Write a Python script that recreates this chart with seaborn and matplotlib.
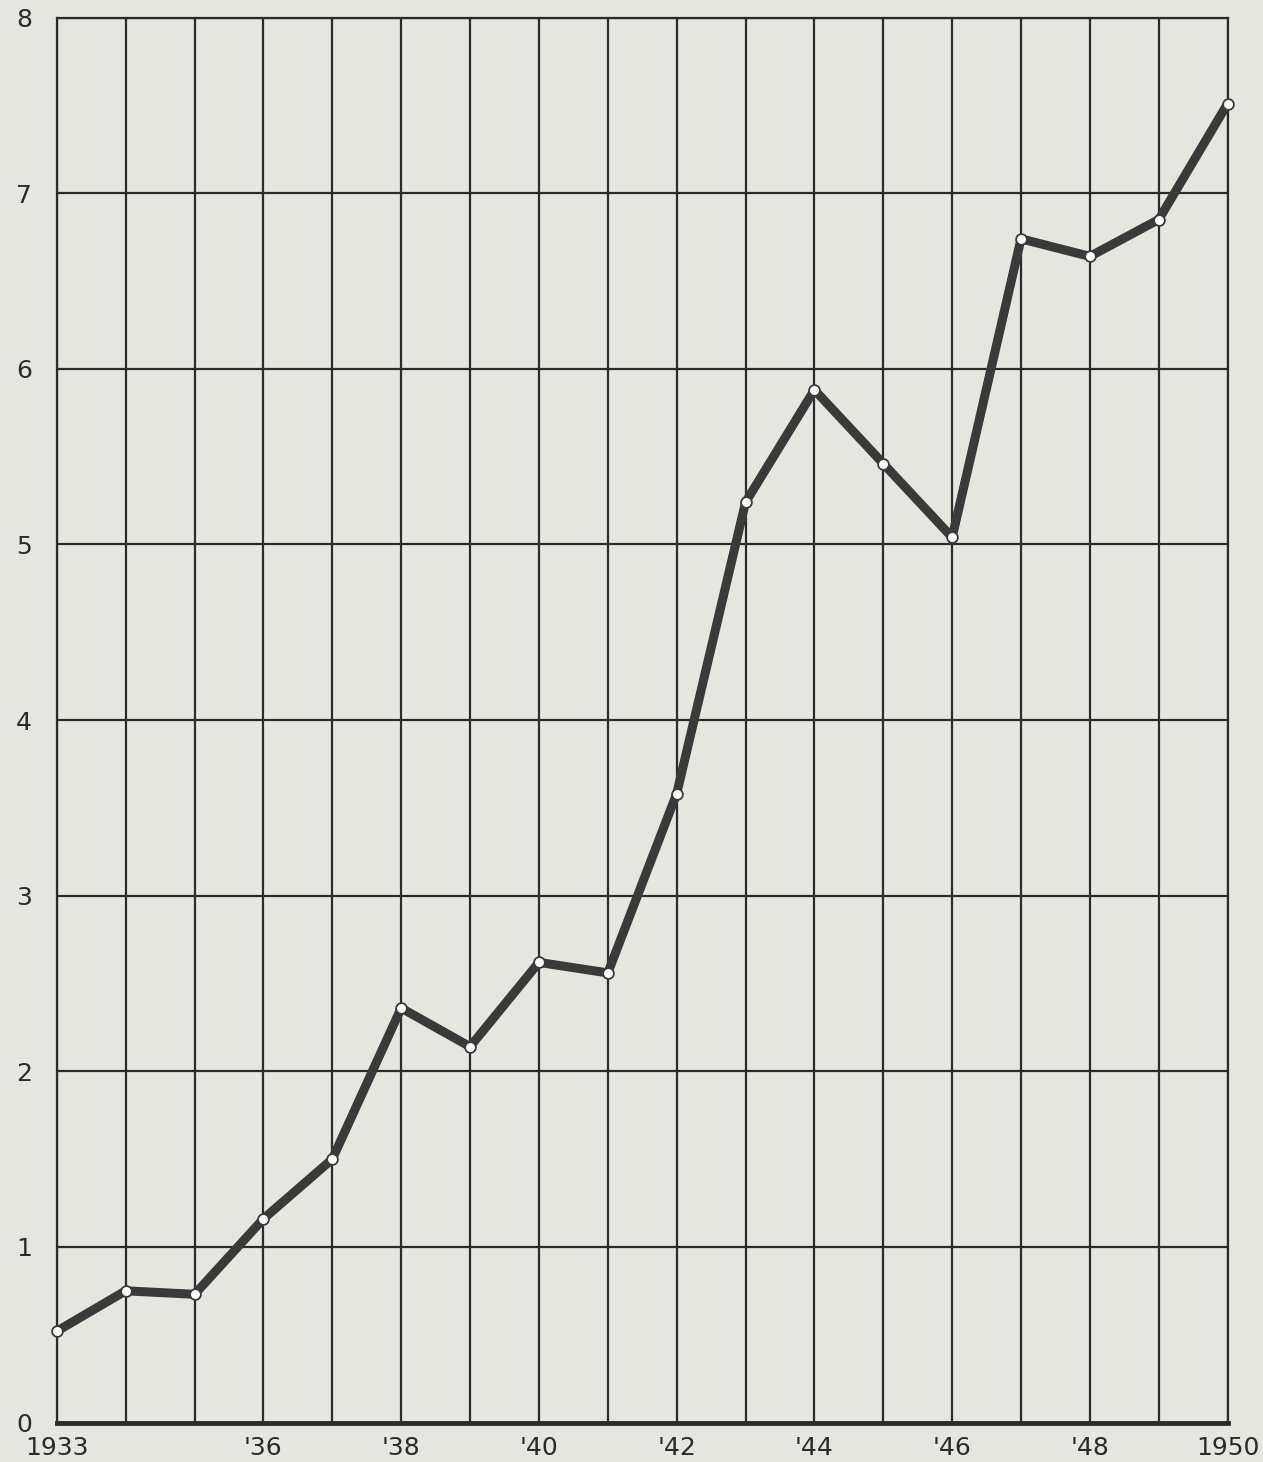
import pandas as pd
import matplotlib.pyplot as plt
import seaborn as sns

# values
years = list(range(1933, 1951))
values = [0.52, 0.75, 0.73, 1.16, 1.50, 2.36, 2.14, 2.62, 2.56,
          3.58, 5.24, 5.88, 5.46, 5.04, 6.74, 6.64, 6.85, 7.51]
x_tick_pos = [1933, 1936, 1938, 1940, 1942, 1944, 1946, 1948, 1950]
x_tick_labels = ["1933", "'36", "'38", "'40", "'42", "'44", "'46", "'48", "1950"]
y_ticks = list(range(0, 9))


def main():
    df = pd.DataFrame({"year": years, "value": values})

    sns.set_theme(style="white")
    plt.rcParams['font.family'] = ['DejaVu Sans']
    paper = "#e6e6e1"
    ink = "#2b2b2b"

    fig = plt.figure(figsize=(12.63, 14.62), dpi=100, facecolor=paper)
    ax = fig.add_axes([0.045, 0.027, 0.927, 0.961])
    ax.set_facecolor(paper)

    # grid: one line per year, one per unit
    for yr in years:
        ax.axvline(yr, color=ink, lw=1.6, zorder=1)
    for yv in y_ticks:
        ax.axhline(yv, color=ink, lw=1.6, zorder=1)

    sns.lineplot(data=df, x="year", y="value", ax=ax, color="#3a3a3a",
                 linewidth=6.5, zorder=3, clip_on=False)
    sns.scatterplot(data=df, x="year", y="value", ax=ax, s=60,
                    color="white", edgecolor="#3a3a3a", linewidth=1.3,
                    zorder=4, clip_on=False)

    ax.set_xlim(1933, 1950)
    ax.set_ylim(0, 8)
    ax.set_xticks(x_tick_pos)
    ax.set_xticklabels(x_tick_labels)
    ax.set_yticks(y_ticks)
    ax.tick_params(axis='both', length=0, labelsize=18, colors=ink)
    ax.tick_params(axis='y', pad=18)
    ax.tick_params(axis='x', pad=10)
    ax.set_xlabel("")
    ax.set_ylabel("")

    for side in ["left", "right", "top"]:
        ax.spines[side].set_visible(True)
        ax.spines[side].set_color(ink)
        ax.spines[side].set_linewidth(1.6)
    ax.spines["bottom"].set_color(ink)
    ax.spines["bottom"].set_linewidth(3.5)
    ax.spines["bottom"].set_zorder(5)

    plt.savefig("out.png", dpi=100, facecolor=paper)
    plt.close()


if __name__ == "__main__":
    main()
